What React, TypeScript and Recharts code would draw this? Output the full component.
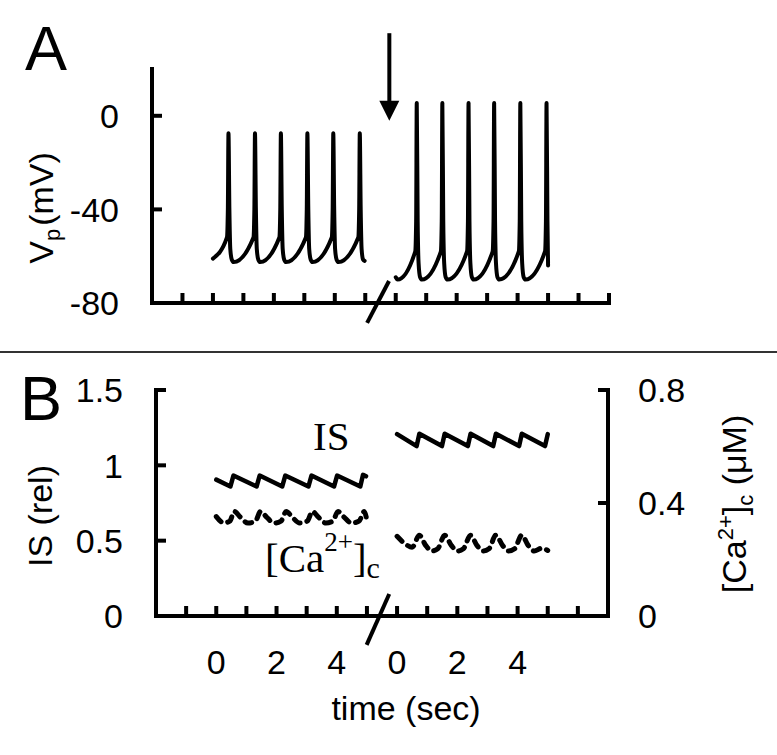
import { LineChart, Line, XAxis, YAxis, ReferenceLine } from "recharts";

const SANS = "'Liberation Sans', Arial, sans-serif";
const SERIF = "'Liberation Serif', 'Times New Roman', serif";

// each recording segment is 5 s long; the axis is broken between them
const BEFORE_OFFSET = 2;
const AFTER_OFFSET = 8;

const xTicks = [1, 2, 3, 4, 5, 6, 7, 8, 9, 10, 11, 12, 13, 14, 15];
const timeTickLabels: Record<number, string> = { 2: "0", 4: "2", 6: "4", 8: "0", 10: "2", 12: "4" };
const vpTicks = [-80, -40, 0];
const isTicks = [0, 0.5, 1, 1.5];
const caTicks = [0, 0.4, 0.8];

// Vp (mV) before the arrow: [time (s), value]
const vpBefore: [number, number][] = [
  [0.0, -61], [0.46, -52], [0.49, -40], [0.51, -7.5], [0.54, -40], [0.57, -57], [0.62, -61.5], [0.68, -62.5],
  [1.33, -52], [1.36, -40], [1.38, -7.5], [1.41, -40], [1.44, -57], [1.49, -61.5], [1.55, -62.5],
  [2.18, -52], [2.21, -40], [2.23, -7.5], [2.26, -40], [2.29, -57], [2.34, -61.5], [2.40, -62.5],
  [3.05, -52], [3.08, -40], [3.10, -7.5], [3.13, -40], [3.16, -57], [3.21, -61.5], [3.27, -62.5],
  [3.90, -52], [3.93, -40], [3.95, -7.5], [3.98, -40], [4.01, -57], [4.06, -61.5], [4.12, -62.5],
  [4.77, -52], [4.80, -40], [4.82, -7.5], [4.85, -40], [4.88, -57], [4.93, -61.5], [4.98, -62],
];

// Vp (mV) after the arrow
const vpAfter: [number, number][] = [
  [0.0, -69], [0.06, -70],
  [0.64, -58], [0.67, -45], [0.69, 5.5], [0.72, -45], [0.75, -63], [0.80, -69], [0.86, -70],
  [1.48, -58], [1.51, -45], [1.53, 5.5], [1.56, -45], [1.59, -63], [1.64, -69], [1.70, -70],
  [2.34, -58], [2.37, -45], [2.39, 5.5], [2.42, -45], [2.45, -63], [2.50, -69], [2.56, -70],
  [3.18, -58], [3.21, -45], [3.23, 5.5], [3.26, -45], [3.29, -63], [3.34, -69], [3.40, -70],
  [4.04, -58], [4.07, -45], [4.09, 5.5], [4.12, -45], [4.15, -63], [4.20, -69], [4.26, -70],
  [4.90, -58], [4.93, -45], [4.95, 5.5], [4.98, -45], [5.0, -64],
];

// insulin secretion (rel)
const isBefore: [number, number][] = [
  [0.0, 0.905], [0.47, 0.86], [0.57, 0.932], [1.34, 0.86], [1.44, 0.932], [2.19, 0.86], [2.29, 0.932],
  [3.06, 0.86], [3.16, 0.932], [3.91, 0.86], [4.01, 0.932], [4.78, 0.86], [4.87, 0.937], [4.97, 0.927],
];
const isAfter: [number, number][] = [
  [0.0, 1.207], [0.65, 1.128], [0.74, 1.21], [1.49, 1.128], [1.58, 1.21], [2.35, 1.128], [2.44, 1.21],
  [3.19, 1.128], [3.28, 1.21], [4.05, 1.128], [4.14, 1.21], [4.91, 1.128], [5.0, 1.207],
];

// [Ca2+]c (uM)
const caBefore: [number, number][] = [
  [0.0, 0.352], [0.25, 0.33], [0.45, 0.336], [0.60, 0.37], [0.80, 0.35], [1.05, 0.329], [1.30, 0.336],
  [1.47, 0.37], [1.67, 0.35], [1.92, 0.329], [2.15, 0.336], [2.32, 0.37], [2.52, 0.35], [2.77, 0.329],
  [3.02, 0.336], [3.19, 0.37], [3.39, 0.35], [3.64, 0.329], [3.87, 0.336], [4.04, 0.37], [4.24, 0.35],
  [4.49, 0.329], [4.74, 0.336], [4.91, 0.37], [5.0, 0.338],
];
const caAfter: [number, number][] = [
  [0.0, 0.282], [0.30, 0.253], [0.50, 0.243], [0.74, 0.286], [0.95, 0.25], [1.15, 0.23], [1.35, 0.238],
  [1.58, 0.286], [1.80, 0.25], [2.00, 0.23], [2.20, 0.238], [2.44, 0.286], [2.65, 0.25], [2.85, 0.23],
  [3.05, 0.238], [3.28, 0.286], [3.50, 0.25], [3.70, 0.23], [3.90, 0.238], [4.14, 0.286], [4.35, 0.25],
  [4.55, 0.23], [4.80, 0.24], [5.0, 0.232],
];

const toPoints = (pairs: [number, number][], offset: number) =>
  pairs.map(([t, v]) => ({ x: t + offset, y: v }));

const axisLine = { stroke: "#000", strokeWidth: 4, strokeLinecap: "square" as const };

const LeftTick = (props: any) => {
  const { x, y, payload } = props;
  return (
    <g>
      <line x1={x} y1={y} x2={x + 10} y2={y} stroke="#000" strokeWidth={4} />
      <text x={x - 33} y={y} dy="0.36em" textAnchor="end" fontFamily={SANS} fontSize={34} fill="#000">
        {payload.value}
      </text>
    </g>
  );
};

const RightTick = (props: any) => {
  const { x, y, payload } = props;
  return (
    <g>
      <line x1={x} y1={y} x2={x - 10} y2={y} stroke="#000" strokeWidth={4} />
      <text x={x + 30} y={y} dy="0.36em" textAnchor="start" fontFamily={SANS} fontSize={34} fill="#000">
        {payload.value}
      </text>
    </g>
  );
};

const BottomTick = (props: any) => {
  const { x, y, payload, showLabels } = props;
  const label = showLabels ? timeTickLabels[payload.value] : undefined;
  return (
    <g>
      <line x1={x} y1={y} x2={x} y2={y - 10} stroke="#000" strokeWidth={4} />
      {label !== undefined && (
        <text x={x} y={y + 58} textAnchor="middle" fontFamily={SANS} fontSize={34} fill="#000">
          {label}
        </text>
      )}
    </g>
  );
};

const ArrowShape = (props: any) => {
  const { x1, y1, x2, y2 } = props;
  return (
    <g>
      <line x1={x1} y1={y1} x2={x2} y2={y2 - 16} stroke="#000" strokeWidth={4} />
      <polygon points={`${x2 - 10},${y2 - 20} ${x2 + 10},${y2 - 20} ${x2},${y2}`} fill="#000" />
    </g>
  );
};

export default function App() {
  return (
    <div style={{ position: "absolute", left: 0, top: 0, width: 777, height: 755, background: "#fff" }}>
      <div style={{ position: "absolute", left: 0, top: 0 }}>
        <LineChart width={777} height={340} margin={{ top: 69, right: 168, bottom: 36, left: 151 }}>
          <XAxis
            type="number"
            dataKey="x"
            domain={[0, 15]}
            ticks={xTicks}
            interval={0}
            height={1}
            tickSize={0}
            tickMargin={0}
            tickLine={false}
            axisLine={axisLine}
            tick={(p: any) => <BottomTick {...p} showLabels={false} />}
            allowDataOverflow
          />
          <YAxis
            type="number"
            domain={[-80, 20]}
            ticks={vpTicks}
            interval={0}
            width={1}
            tickSize={0}
            tickMargin={0}
            tickLine={false}
            axisLine={axisLine}
            tick={(p: any) => <LeftTick {...p} />}
            allowDataOverflow
          />
          <ReferenceLine
            segment={[{ x: 7.06, y: -88.5 }, { x: 7.78, y: -70.6 }]}
            stroke="#000"
            strokeWidth={4}
            ifOverflow="visible"
          />
          <ReferenceLine
            segment={[{ x: 7.79, y: 35.3 }, { x: 7.79, y: -2.1 }]}
            ifOverflow="visible"
            shape={(p: any) => <ArrowShape {...p} />}
          />
          <Line
            data={toPoints(vpBefore, BEFORE_OFFSET)}
            dataKey="y"
            type="monotone"
            stroke="#000"
            strokeWidth={4}
            strokeLinejoin="round"
            strokeLinecap="round"
            dot={false}
            activeDot={false}
            isAnimationActive={false}
          />
          <Line
            data={toPoints(vpAfter, AFTER_OFFSET)}
            dataKey="y"
            type="monotone"
            stroke="#000"
            strokeWidth={4}
            strokeLinejoin="round"
            strokeLinecap="round"
            dot={false}
            activeDot={false}
            isAnimationActive={false}
          />
        </LineChart>
      </div>

      <div style={{ position: "absolute", left: 0, top: 360 }}>
        <LineChart width={777} height={395} margin={{ top: 30, right: 168, bottom: 138, left: 155 }}>
          <XAxis
            type="number"
            dataKey="x"
            domain={[0, 15]}
            ticks={xTicks.slice(0, 14)}
            interval={0}
            height={1}
            tickSize={0}
            tickMargin={0}
            tickLine={false}
            axisLine={axisLine}
            tick={(p: any) => <BottomTick {...p} showLabels />}
            allowDataOverflow
          />
          <YAxis
            yAxisId="is"
            type="number"
            domain={[0, 1.5]}
            ticks={isTicks}
            interval={0}
            width={1}
            tickSize={0}
            tickMargin={0}
            tickLine={false}
            axisLine={axisLine}
            tick={(p: any) => <LeftTick {...p} />}
            allowDataOverflow
          />
          <YAxis
            yAxisId="ca"
            orientation="right"
            type="number"
            domain={[0, 0.8]}
            ticks={caTicks}
            interval={0}
            width={1}
            tickSize={0}
            tickMargin={0}
            tickLine={false}
            axisLine={axisLine}
            tick={(p: any) => <RightTick {...p} />}
            allowDataOverflow
          />
          <ReferenceLine
            yAxisId="is"
            segment={[{ x: 6.99, y: -0.192 }, { x: 7.74, y: 0.146 }]}
            stroke="#000"
            strokeWidth={4}
            ifOverflow="visible"
          />
          <Line
            yAxisId="is"
            data={toPoints(isBefore, BEFORE_OFFSET)}
            dataKey="y"
            type="linear"
            stroke="#000"
            strokeWidth={4.5}
            strokeLinejoin="round"
            strokeLinecap="round"
            dot={false}
            activeDot={false}
            isAnimationActive={false}
          />
          <Line
            yAxisId="is"
            data={toPoints(isAfter, AFTER_OFFSET)}
            dataKey="y"
            type="linear"
            stroke="#000"
            strokeWidth={4.5}
            strokeLinejoin="round"
            strokeLinecap="round"
            dot={false}
            activeDot={false}
            isAnimationActive={false}
          />
          <Line
            yAxisId="ca"
            data={toPoints(caBefore, BEFORE_OFFSET)}
            dataKey="y"
            type="monotone"
            stroke="#000"
            strokeWidth={5}
            strokeDasharray="7 7"
            strokeLinecap="round"
            dot={false}
            activeDot={false}
            isAnimationActive={false}
          />
          <Line
            yAxisId="ca"
            data={toPoints(caAfter, AFTER_OFFSET)}
            dataKey="y"
            type="monotone"
            stroke="#000"
            strokeWidth={5}
            strokeDasharray="7 7"
            strokeLinecap="round"
            dot={false}
            activeDot={false}
            isAnimationActive={false}
          />
        </LineChart>
      </div>

      <svg
        width={777}
        height={755}
        style={{ position: "absolute", left: 0, top: 0, pointerEvents: "none" }}
      >
        <line x1={0} y1={352} x2={777} y2={352} stroke="#333" strokeWidth={2} />
        <text x={25} y={70} fontFamily={SANS} fontSize={63} fill="#000">A</text>
        <text x={20} y={420} fontFamily={SANS} fontSize={63} fill="#000">B</text>

        <text transform="translate(53,208) rotate(-90)" textAnchor="middle" fontFamily={SANS} fontSize={34} fill="#000">
          V<tspan fontSize={22} dy={7}>p</tspan>
          <tspan dy={-7} dx={3}>(mV)</tspan>
        </text>
        <text transform="translate(52,516) rotate(-90)" textAnchor="middle" fontFamily={SANS} fontSize={34} fill="#000">
          IS (rel)
        </text>
        <text transform="translate(746,504) rotate(-90)" textAnchor="middle" fontFamily={SANS} fontSize={34} fill="#000">
          [Ca<tspan fontSize={22} dy={-13}>2+</tspan>
          <tspan dy={13}>]</tspan>
          <tspan fontSize={22} dy={7}>c</tspan>
          <tspan dy={-7}> (μM)</tspan>
        </text>
        <text x={406} y={720} textAnchor="middle" fontFamily={SANS} fontSize={34} fill="#000">
          time (sec)
        </text>

        <text x={313} y={450} fontFamily={SERIF} fontSize={41} fill="#000">IS</text>
        <text x={265} y={572} fontFamily={SERIF} fontSize={41} fill="#000">
          [Ca<tspan fontSize={27} dy={-21}>2+</tspan>
          <tspan dy={21}>]</tspan>
          <tspan fontSize={30} dy={6}>c</tspan>
        </text>
      </svg>
    </div>
  );
}
